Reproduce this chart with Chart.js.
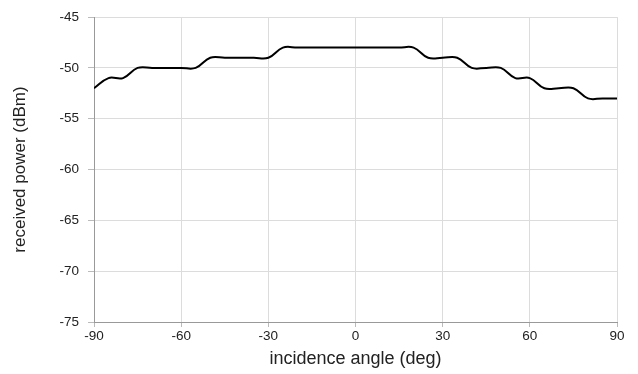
<!DOCTYPE html>
<html><head><meta charset="utf-8">
<script src="https://cdn.jsdelivr.net/npm/chart.js@4"></script>
<style>html,body{margin:0;padding:0;background:#fff}</style>
</head><body>
<canvas id="c" width="638" height="374"></canvas>
<script>
const angles = [-90,-85,-80,-75,-70,-65,-60,-55,-50,-45,-40,-35,-30,-25,-20,-15,-10,-5,0,5,10,15,20,25,30,35,40,45,50,55,60,65,70,75,80,85,90];
const power  = [-52,-51,-51,-50,-50,-50,-50,-50,-49,-49,-49,-49,-49,-48,-48,-48,-48,-48,-48,-48,-48,-48,-48,-49,-49,-49,-50,-50,-50,-51,-51,-52,-52,-52,-53,-53,-53];
const xTicks = [-90,-60,-30,0,30,60,90];
const yTicks = [-75,-70,-65,-60,-55,-50,-45];

const fam = "'Liberation Sans', Arial, Helvetica, sans-serif";
new Chart(document.getElementById('c'), {
  type: 'line',
  data: {datasets: [{
    data: angles.map((a,i)=>({x:a,y:power[i]})),
    borderColor: '#000', borderWidth: 2, pointRadius: 0, tension: 0.4, fill: false
  }]},
  options: {
    responsive: false, animation: false,
    layout: {padding: {top: 13, right: 21, left: 6, bottom: 0}},
    plugins: {legend: {display: false}, tooltip: {enabled: false}},
    scales: {
      x: {
        type: 'linear', min: -90, max: 90,
        afterBuildTicks: s => { s.ticks = xTicks.map(v=>({value:v})); },
        afterFit: s => { s.height = 52; },
        grid: {color: '#dcdcdc', lineWidth: 1, tickLength: 5, tickColor: '#bbb'},
        border: {color: '#999', width: 1},
        ticks: {color: '#222', font: {family: fam, size: 13.5}, padding: 1, maxRotation: 0},
        title: {display: true, text: 'incidence angle (deg)', color: '#222', font: {family: fam, size: 18}, padding: {top: 0}}
      },
      y: {
        min: -75, max: -45,
        afterBuildTicks: s => { s.ticks = yTicks.map(v=>({value:v})); },
        afterFit: s => { s.width = 88; },
        grid: {color: '#dcdcdc', lineWidth: 1, tickLength: 6, tickColor: '#bbb'},
        border: {color: '#999', width: 1},
        ticks: {color: '#222', font: {family: fam, size: 13.5}, padding: 9},
        title: {display: true, text: 'received power (dBm)', color: '#222', font: {family: fam, size: 17}, padding: {bottom: 0}}
      }
    }
  }
});
</script>
</body></html>
